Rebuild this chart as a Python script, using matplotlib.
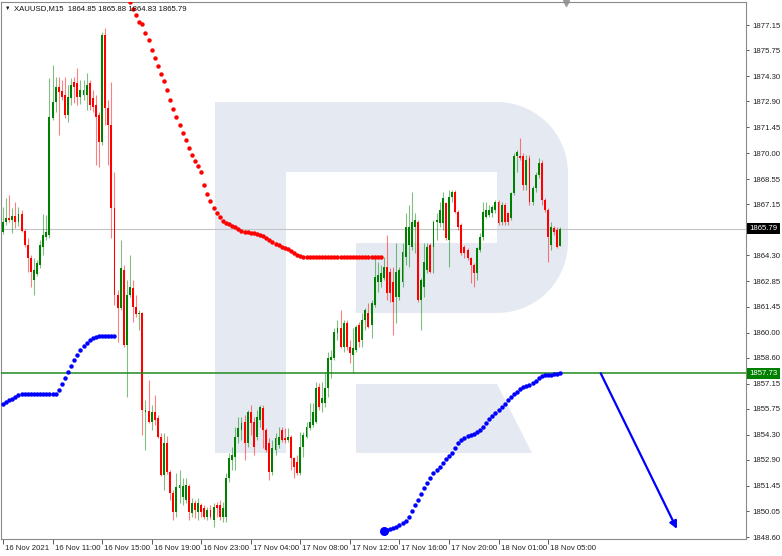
import numpy as np
import matplotlib
matplotlib.use("Agg")
import matplotlib.pyplot as plt
from matplotlib.patches import Polygon
from matplotlib.transforms import blended_transform_factory, ScaledTranslation

plt.rcParams['font.family'] = ['Liberation Sans', 'DejaVu Sans']

# ----------------------------
# DATA  (XAUUSD M15 candles)
# ----------------------------

opens = [
    1865.61, 1866.17, 1866.39, 1866.28, 1866.50, 1866.17, 1866.62, 1865.67, 1864.89, 1864.16,
    1862.93, 1863.27, 1863.77, 1864.77, 1865.33, 1865.44, 1871.97, 1872.86, 1873.70, 1873.47,
    1873.25, 1872.14, 1873.08, 1873.98, 1873.92, 1873.14, 1873.25, 1873.25, 1873.92, 1873.08,
    1872.69, 1872.14, 1870.63, 1876.60, 1872.53, 1871.58, 1866.95, 1862.10, 1861.37, 1863.49,
    1859.31, 1862.10, 1862.49, 1861.43, 1861.04, 1861.09, 1855.57, 1855.63, 1855.01, 1855.57,
    1855.24, 1854.18, 1852.06, 1853.84, 1852.23, 1851.06, 1850.00, 1851.33, 1850.83, 1850.66,
    1851.45, 1849.94, 1850.50, 1850.00, 1850.39, 1850.22, 1849.72, 1850.11, 1849.55, 1850.39,
    1850.39, 1849.72, 1849.72, 1851.89, 1852.89, 1853.06, 1854.18, 1854.57, 1855.01, 1853.84,
    1855.57, 1855.01, 1854.18, 1855.12, 1855.80, 1854.57, 1853.84, 1852.23, 1853.45, 1853.73,
    1854.57, 1854.12, 1854.01, 1854.18, 1853.01, 1852.78, 1852.17, 1853.62, 1854.18, 1854.68,
    1854.85, 1855.01, 1856.96, 1856.07, 1856.07, 1856.91, 1858.47, 1858.58, 1859.98, 1860.26,
    1859.20, 1860.54, 1859.20, 1858.75, 1859.03, 1860.43, 1859.59, 1860.70, 1861.09, 1860.43,
    1861.54, 1862.82, 1862.82, 1863.05, 1863.66, 1863.38, 1862.82, 1861.99, 1861.99, 1862.82,
    1864.22, 1864.89, 1864.77, 1865.89, 1866.17, 1861.82, 1862.54, 1863.49, 1864.89, 1864.77,
    1866.17, 1866.11, 1866.11, 1867.23, 1865.16, 1867.56, 1867.84, 1866.73, 1866.00, 1864.77,
    1864.61, 1864.16, 1863.77, 1863.33, 1864.61, 1865.33, 1866.45, 1866.56, 1866.67, 1866.84,
    1867.28, 1866.17, 1867.12, 1866.67, 1866.39, 1867.79, 1869.85, 1869.85, 1869.85, 1868.23,
    1869.74, 1867.28, 1868.07, 1868.79, 1869.46, 1867.40, 1866.84, 1864.89, 1865.83, 1865.72,
    1864.85,
]

highs = [
    1867.01, 1867.51, 1867.67, 1866.95, 1867.28, 1867.01, 1866.84, 1865.78, 1865.28, 1864.33,
    1864.16, 1864.05, 1865.16, 1866.62, 1866.56, 1874.20, 1874.92, 1874.26, 1874.26, 1874.09,
    1874.26, 1873.81, 1874.20, 1874.26, 1874.76, 1874.09, 1874.09, 1874.48, 1874.09, 1873.53,
    1873.25, 1872.30, 1876.77, 1876.99, 1872.97, 1873.98, 1868.96, 1862.38, 1865.16, 1863.77,
    1862.93, 1864.33, 1862.93, 1862.10, 1861.26, 1861.15, 1856.24, 1857.35, 1855.96, 1856.52,
    1855.41, 1854.40, 1854.40, 1854.23, 1852.34, 1851.22, 1852.17, 1852.34, 1851.89, 1851.89,
    1851.56, 1850.78, 1850.66, 1850.78, 1850.50, 1850.39, 1850.27, 1850.39, 1850.50, 1850.55,
    1850.66, 1850.55, 1852.17, 1853.29, 1853.62, 1854.74, 1855.29, 1855.29, 1855.41, 1855.68,
    1855.96, 1855.29, 1855.68, 1855.96, 1855.96, 1854.68, 1854.12, 1854.01, 1854.40, 1854.74,
    1854.74, 1854.68, 1854.68, 1854.29, 1853.06, 1853.17, 1854.46, 1854.46, 1855.01, 1856.07,
    1856.07, 1857.24, 1857.19, 1857.24, 1857.80, 1858.92, 1859.03, 1860.26, 1860.70, 1861.26,
    1860.70, 1860.70, 1859.59, 1860.26, 1860.43, 1860.59, 1861.09, 1861.37, 1861.65, 1861.82,
    1864.22, 1863.94, 1863.77, 1864.22, 1865.44, 1863.60, 1863.66, 1864.99, 1863.66, 1864.99,
    1866.67, 1867.12, 1867.84, 1866.67, 1866.28, 1863.05, 1864.99, 1864.99, 1864.99, 1866.28,
    1866.67, 1867.28, 1867.84, 1867.28, 1867.95, 1867.95, 1867.95, 1866.84, 1866.11, 1864.89,
    1864.72, 1864.22, 1863.88, 1864.77, 1865.56, 1867.28, 1867.28, 1867.12, 1867.12, 1867.40,
    1867.40, 1867.28, 1867.23, 1866.73, 1867.84, 1870.02, 1870.18, 1870.85, 1870.02, 1869.91,
    1869.91, 1868.18, 1868.96, 1869.74, 1869.63, 1867.51, 1866.95, 1866.17, 1865.95, 1865.89,
    1865.88,
]

lows = [
    1865.50, 1866.00, 1866.17, 1865.56, 1865.83, 1865.95, 1865.61, 1864.77, 1863.38, 1862.54,
    1862.10, 1863.16, 1863.60, 1864.33, 1865.16, 1865.28, 1871.86, 1872.30, 1871.02, 1872.97,
    1871.97, 1871.75, 1872.69, 1872.81, 1872.69, 1872.75, 1872.97, 1872.42, 1872.42, 1872.30,
    1869.35, 1869.24, 1870.46, 1871.58, 1869.35, 1865.28, 1861.54, 1859.48, 1861.26, 1859.20,
    1856.41, 1861.99, 1860.59, 1860.87, 1860.15, 1854.29, 1853.45, 1854.96, 1854.57, 1854.85,
    1854.12, 1852.00, 1851.22, 1852.12, 1850.66, 1849.55, 1849.72, 1850.50, 1850.39, 1850.50,
    1849.55, 1849.72, 1849.66, 1849.55, 1849.72, 1849.60, 1849.55, 1849.60, 1849.16, 1849.72,
    1849.55, 1849.44, 1849.44, 1851.67, 1852.34, 1852.34, 1853.84, 1854.01, 1852.89, 1853.62,
    1854.29, 1853.17, 1854.01, 1854.74, 1853.57, 1853.34, 1851.78, 1852.06, 1853.17, 1853.57,
    1853.90, 1853.84, 1853.90, 1852.34, 1851.89, 1852.06, 1852.06, 1853.06, 1854.12, 1854.57,
    1854.74, 1854.96, 1855.68, 1855.57, 1855.85, 1856.41, 1857.47, 1858.47, 1859.59, 1859.14,
    1858.92, 1859.03, 1858.31, 1857.74, 1858.92, 1859.20, 1859.20, 1860.15, 1860.26, 1859.70,
    1861.43, 1862.27, 1862.54, 1862.93, 1861.82, 1861.71, 1859.87, 1860.54, 1861.82, 1862.54,
    1863.77, 1863.66, 1864.61, 1864.44, 1861.71, 1860.15, 1861.99, 1863.33, 1863.33, 1863.33,
    1865.16, 1865.89, 1865.72, 1865.16, 1863.66, 1867.28, 1866.67, 1865.72, 1864.33, 1864.16,
    1864.05, 1862.77, 1862.54, 1862.93, 1864.50, 1865.16, 1866.39, 1866.45, 1866.45, 1866.67,
    1866.00, 1866.00, 1866.00, 1866.00, 1866.28, 1867.67, 1868.96, 1869.63, 1867.95, 1867.95,
    1867.12, 1867.12, 1867.84, 1868.62, 1867.12, 1866.73, 1863.94, 1864.61, 1865.44, 1864.72,
    1864.83,
]

closes = [
    1866.17, 1866.39, 1866.28, 1866.50, 1866.17, 1866.62, 1865.67, 1864.89, 1864.16, 1863.38,
    1863.49, 1863.88, 1864.89, 1865.44, 1865.61, 1872.02, 1872.86, 1873.70, 1873.42, 1873.14,
    1872.14, 1873.14, 1873.81, 1873.70, 1873.14, 1873.53, 1873.53, 1873.81, 1872.69, 1872.58,
    1872.02, 1870.63, 1876.60, 1872.53, 1871.58, 1866.95, 1862.10, 1861.37, 1863.60, 1859.31,
    1862.10, 1862.54, 1861.43, 1861.04, 1861.09, 1855.68, 1855.68, 1855.01, 1855.57, 1855.12,
    1854.18, 1852.06, 1853.84, 1852.23, 1851.06, 1850.00, 1851.39, 1851.50, 1851.45, 1851.50,
    1850.00, 1850.50, 1850.11, 1850.50, 1850.00, 1849.72, 1850.11, 1849.72, 1850.27, 1850.22,
    1849.72, 1850.22, 1851.89, 1853.01, 1853.17, 1854.18, 1854.68, 1854.96, 1853.84, 1855.57,
    1854.96, 1853.62, 1855.29, 1855.85, 1854.57, 1853.45, 1852.23, 1853.57, 1854.12, 1854.18,
    1854.01, 1854.01, 1854.18, 1853.01, 1852.50, 1852.17, 1853.62, 1854.29, 1854.74, 1855.01,
    1855.57, 1856.91, 1855.85, 1856.35, 1856.91, 1858.58, 1858.64, 1860.03, 1860.26, 1859.20,
    1860.54, 1859.20, 1858.86, 1859.14, 1860.31, 1859.48, 1860.70, 1861.26, 1860.31, 1861.65,
    1863.10, 1863.21, 1863.33, 1863.66, 1862.21, 1862.21, 1861.71, 1863.38, 1863.49, 1864.50,
    1865.89, 1865.89, 1866.17, 1866.28, 1861.82, 1862.93, 1863.94, 1864.77, 1863.38, 1866.17,
    1866.28, 1866.84, 1867.51, 1865.28, 1867.56, 1867.84, 1866.73, 1865.89, 1864.44, 1864.44,
    1864.16, 1863.77, 1863.33, 1864.72, 1865.33, 1866.73, 1866.84, 1866.84, 1867.01, 1867.28,
    1866.11, 1867.12, 1866.17, 1866.17, 1867.79, 1869.85, 1870.07, 1869.74, 1868.23, 1869.63,
    1867.28, 1868.07, 1868.79, 1869.46, 1867.40, 1866.84, 1865.33, 1865.89, 1865.61, 1864.77,
    1865.79,
]

# red indicator dots, from bar 41
red_start = 41
red_dots = [
    1878.44, 1878.05, 1877.71, 1877.32, 1877.21, 1876.71, 1876.32, 1875.76, 1875.32, 1874.87,
    1874.42, 1874.03, 1873.53, 1872.97, 1872.47, 1872.02, 1871.58, 1871.13, 1870.74, 1870.30,
    1869.91, 1869.57, 1869.29, 1868.96, 1868.23, 1867.73, 1867.34, 1866.95, 1866.67, 1866.45,
    1866.22, 1866.11, 1866.06, 1865.95, 1865.89, 1865.78, 1865.67, 1865.61, 1865.61, 1865.56,
    1865.56, 1865.50, 1865.44, 1865.39, 1865.28, 1865.16, 1865.05, 1864.94, 1864.89, 1864.77,
    1864.72, 1864.66, 1864.55, 1864.44, 1864.33, 1864.27, 1864.22, 1864.22, 1864.22, 1864.22,
    1864.22, 1864.22, 1864.22, 1864.22, 1864.22, 1864.22, 1864.22, 1864.22, 1864.22, 1864.22,
    1864.22, 1864.22, 1864.22, 1864.22, 1864.22, 1864.22, 1864.22, 1864.22, 1864.22, 1864.22,
    1864.22, 1864.22,
]

# blue indicator dots: first run from bar 0, second run from bar 123
blue_start_1 = 0
blue_dots_1 = [
    1856.02, 1856.13, 1856.24, 1856.30, 1856.41, 1856.52, 1856.58, 1856.58, 1856.58, 1856.58,
    1856.58, 1856.58, 1856.58, 1856.58, 1856.58, 1856.58, 1856.58, 1856.58, 1856.80, 1857.13,
    1857.47, 1857.80, 1858.14, 1858.47, 1858.75, 1859.03, 1859.25, 1859.42, 1859.59, 1859.70,
    1859.76, 1859.81, 1859.81, 1859.81, 1859.81, 1859.81, 1859.81,
]
blue_start_2 = 123
blue_dots_2 = [
    1848.94, 1848.99, 1849.05, 1849.10, 1849.16, 1849.27, 1849.38, 1849.49, 1849.72, 1850.05,
    1850.39, 1850.66, 1851.00, 1851.33, 1851.61, 1851.89, 1852.17, 1852.34, 1852.50, 1852.73,
    1852.95, 1853.12, 1853.29, 1853.57, 1853.84, 1854.01, 1854.12, 1854.23, 1854.29, 1854.35,
    1854.46, 1854.57, 1854.74, 1854.96, 1855.18, 1855.35, 1855.52, 1855.68, 1855.85, 1856.02,
    1856.24, 1856.41, 1856.58, 1856.69, 1856.86, 1856.96, 1857.02, 1857.08, 1857.19, 1857.30,
    1857.47, 1857.58, 1857.64, 1857.64, 1857.64, 1857.69, 1857.69, 1857.74,
]

level_price = 1857.73
last_price = 1865.79
forecast_bars = [193, 217.6]
forecast_prices = [1857.73, 1849.05]

y_ticks = [1877.15, 1875.75, 1874.30, 1872.90, 1871.45, 1870.00, 1868.55, 1867.15, 1864.30,
           1862.85, 1861.45, 1860.00, 1858.60, 1857.15, 1855.75, 1854.30, 1852.90, 1851.45,
           1850.05, 1848.60]
x_tick_bars = [0, 16, 32, 48, 64, 80, 96, 112, 128, 144, 160, 176]
x_labels = ['16 Nov 2021', '16 Nov 11:00', '16 Nov 15:00', '16 Nov 19:00', '16 Nov 23:00',
            '17 Nov 04:00', '17 Nov 08:00', '17 Nov 12:00', '17 Nov 16:00', '17 Nov 20:00',
            '18 Nov 01:00', '18 Nov 05:00']
title = 'XAUUSD,M15  1864.85 1865.88 1864.83 1865.79'

# ----------------------------
# FIGURE
# ----------------------------

W, H = 782, 556
fig = plt.figure(figsize=(W / 100, H / 100), dpi=100, facecolor='white')

# background watermark (logo), in pixel space
bg = fig.add_axes([0, 0, 1, 1], zorder=0)
bg.set_xlim(0, W)
bg.set_ylim(H, 0)
bg.axis('off')
wm = '#e5eaf2'
r = 71
cx = 568 - r
bowl = [(497, 102), (cx, 102)]
for t in np.linspace(-np.pi / 2, 0, 20):
    bowl.append((cx + r * np.cos(t), 102 + r + r * np.sin(t)))
for t in np.linspace(0, np.pi / 2, 20):
    bowl.append((cx + r * np.cos(t), 313 - r + r * np.sin(t)))
bowl.append((497, 313))
shapes = [
    [(215, 102), (286, 102), (286, 453), (215, 453)],
    [(286, 102), (497, 102), (497, 172), (286, 172)],
    bowl,
    [(356, 243), (497, 243), (497, 313), (356, 313)],
    [(356, 384), (497, 384), (532, 453), (356, 453)],
]
for s in shapes:
    bg.add_patch(Polygon(s, closed=True, facecolor=wm, edgecolor='none'))
bg.plot(566, 3, marker='v', color='#9a9a9a', markersize=4, clip_on=False)

# main chart
L, R, T, B = 1, 746, 2, 539
ax = fig.add_axes([L / W, (H - B) / H, (R - L) / W, (B - T) / H], zorder=1)
ax.set_facecolor('none')

n = len(closes)
x = np.arange(n)
o = np.array(opens)
c = np.array(closes)
hi = np.array(highs)
lo = np.array(lows)
up = c >= o
green = '#008000'
red = '#ff0000'
cols = np.where(up, green, red)

ax.vlines(x, lo, hi, colors=cols, linewidth=0.8, alpha=0.5, zorder=3)
body_h = np.maximum(np.abs(c - o), 0.07)
ax.bar(x, body_h, bottom=np.minimum(o, c), width=0.62, color=cols, linewidth=0, zorder=4)

ax.axhline(last_price, color='#c4c4c4', linewidth=0.8, zorder=2)
ax.axhline(level_price, color='#1f8a1f', linewidth=1.1, zorder=5)

ax.plot(np.arange(red_start, red_start + len(red_dots)), red_dots, 'o',
        color='#ff0000', markersize=3.2, markeredgewidth=0, zorder=6)
ax.plot(np.arange(blue_start_1, blue_start_1 + len(blue_dots_1)), blue_dots_1, 'o',
        color='#0000ff', markersize=3.2, markeredgewidth=0, zorder=6)
ax.plot(np.arange(blue_start_2, blue_start_2 + len(blue_dots_2)), blue_dots_2, 'o',
        color='#0000ff', markersize=3.2, markeredgewidth=0, zorder=6)
ax.plot(blue_start_2, blue_dots_2[0], 'o', color='#0000ff', markersize=6.5,
        markeredgewidth=0, zorder=6)

ax.annotate('', xy=(forecast_bars[1], forecast_prices[1]),
            xytext=(forecast_bars[0], forecast_prices[0]),
            arrowprops=dict(arrowstyle='-|>', color='#0000ff', lw=1.6,
                            mutation_scale=11, shrinkA=0, shrinkB=0), zorder=7)

# axes limits in bar / price units
step = 3.097
ax.set_xlim((L - 3) / step, (R - 3) / step)
ppx = 1 / 17.93
ax.set_ylim(1848.60 - (B - 537) * ppx, 1848.60 + (537 - T) * ppx)

for sp in ax.spines.values():
    sp.set_color('#8a8a8a')
    sp.set_linewidth(0.8)

fs = 5.6
ax.yaxis.tick_right()
ax.set_yticks(y_ticks)
ax.set_yticklabels(['%.2f' % v for v in y_ticks])
ax.tick_params(axis='y', direction='out', length=2.5, width=0.7, color='#555555',
               pad=2, labelsize=fs, labelcolor='#222222')
ax.set_xticks(x_tick_bars)
ax.set_xticklabels(x_labels, ha='left')
ax.tick_params(axis='x', direction='out', length=3.5, width=0.7, color='#555555',
               pad=0.5, labelsize=fs, labelcolor='#222222')
off = ScaledTranslation(1.5 / 72, 0, fig.dpi_scale_trans)
for lab in ax.get_xticklabels():
    lab.set_transform(lab.get_transform() + off)

# price boxes on the right axis
tr = blended_transform_factory(ax.transAxes, ax.transData)
for price, fc in [(last_price, 'black'), (level_price, '#008000')]:
    ax.text(1.0 + 3.5 / (R - L), price, '%.2f' % price, transform=tr, ha='left',
            va='center', fontsize=fs, color='white', zorder=10, clip_on=False,
            bbox=dict(boxstyle='square,pad=0.28', facecolor=fc, edgecolor='none'))

# header
fig.text(5 / W, 1 - 8.5 / H, '\u25bc', fontsize=4, color='#111111', va='center', ha='left')
fig.text(14 / W, 1 - 8.5 / H, title, fontsize=fs, color='#111111', va='center', ha='left')

fig.savefig('out.png', dpi=100, facecolor='white')
